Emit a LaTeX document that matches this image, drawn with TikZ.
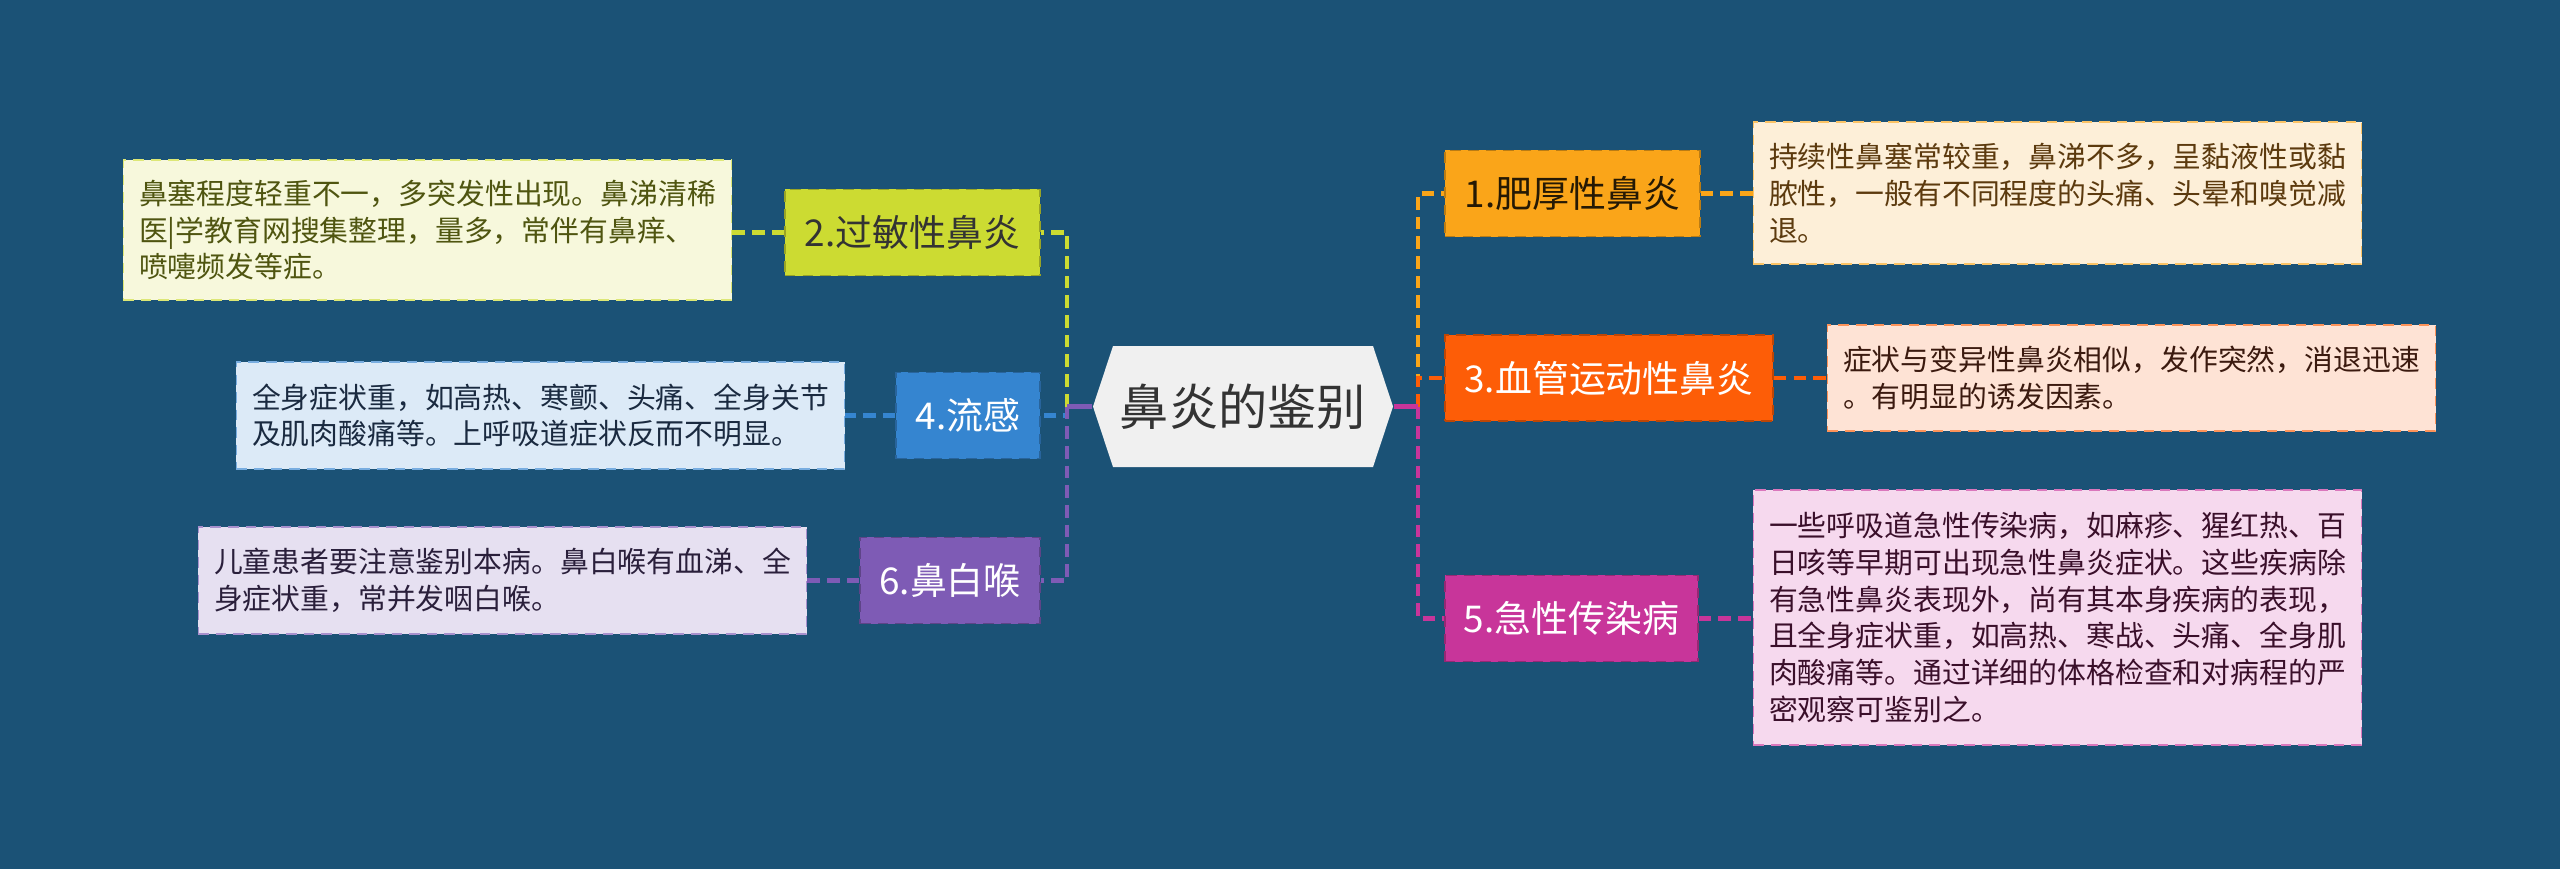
\documentclass[tikz,border=0pt]{standalone}
\usepackage{fontspec}
\newfontfamily\cjk{Noto Sans CJK SC}
\usepackage{xcolor}

\definecolor{bgblue}{HTML}{1B5276}
\definecolor{topicgray}{HTML}{F0F0F0}
\definecolor{topictext}{HTML}{333333}
% branch colours
\definecolor{oneC}{HTML}{FAA519}
\definecolor{twoC}{HTML}{CCDB32}
\definecolor{threeC}{HTML}{FD5D07}
\definecolor{fourC}{HTML}{3585D0}
\definecolor{fiveC}{HTML}{C8359A}
\definecolor{sixC}{HTML}{7E5BB5}
% note fills and texts
\definecolor{oneN}{HTML}{FDEFD8}
\definecolor{twoN}{HTML}{F7F8DC}
\definecolor{threeN}{HTML}{FEE3D5}
\definecolor{fourN}{HTML}{DCEAF7}
\definecolor{fiveN}{HTML}{F6D9EE}
\definecolor{sixN}{HTML}{E6E0F1}
\definecolor{oneT}{HTML}{5C3A0E}
\definecolor{twoT}{HTML}{4F5510}
\definecolor{threeT}{HTML}{3B1A0F}
\definecolor{fourT}{HTML}{1A2A40}
\definecolor{fiveT}{HTML}{3A0F2A}
\definecolor{sixT}{HTML}{2A1F3B}

\begin{document}
\begin{tikzpicture}[
        x=0.01cm, y=-0.01cm,
        topic/.style={rectangle, text=topictext, minimum width=3cm, minimum height=1.21cm, inner sep=0pt, font=\cjk\fontsize{14}{16}\selectfont},
        branch/.style={rectangle, densely dashed, line width=0.4pt, minimum height=0.86cm, inner sep=0pt, font=\cjk\fontsize{10.5}{12}\selectfont},
        note/.style={rectangle, densely dashed, line width=0.4pt, align=left, minimum width=6.08cm, inner sep=0pt, font=\cjk\fontsize{8.2}{10.5}\selectfont},
        link/.style={draw=#1, line width=1.15pt, dash pattern=on 3.6pt off 2pt},
        stub/.style={draw=#1, line width=1.15pt}
    ]
    \useasboundingbox (0,0) rectangle (2560,869);
    \fill[bgblue] (0,0) rectangle (2560,869);

    % hexagon behind the topic
    \fill[topicgray] (1093,406.5) -- (1113,346) -- (1373,346) -- (1393,406.5) -- (1373,467) -- (1113,467) -- cycle;
    \node [topic] (c) at (1243,406.5) {鼻炎的鉴别};

    % right side
    \node [branch, fill=oneC, draw=oneC!75!black, text=black!85!oneC, minimum width=2.55cm] (n1) at (1572.5,193.5) {1.肥厚性鼻炎};
    \node [branch, fill=threeC, draw=threeC!75!black, text=white, minimum width=3.28cm] (n3) at (1609,378) {3.血管运动性鼻炎};
    \node [branch, fill=fiveC, draw=fiveC!75!black, text=white, minimum width=2.53cm] (n5) at (1571.5,618.5) {5.急性传染病};

    \node [note, fill=oneN, draw=oneC!60!oneN, text=oneT, minimum height=1.42cm] (d1) at (2057.5,193) {持续性鼻塞常较重，鼻涕不多，呈黏液性或黏\\脓性，一般有不同程度的头痛、头晕和嗅觉减\\退。};
    \node [note, fill=threeN, draw=threeC!60!threeN, text=threeT, minimum height=1.06cm] (d3) at (2131.5,378) {症状与变异性鼻炎相似，发作突然，消退迅速\\。有明显的诱发因素。};
    \node [note, fill=fiveN, draw=fiveC!60!fiveN, text=fiveT, minimum height=2.55cm] (d5) at (2057.5,617.5) {一些呼吸道急性传染病，如麻疹、猩红热、百\\日咳等早期可出现急性鼻炎症状。这些疾病除\\有急性鼻炎表现外，尚有其本身疾病的表现，\\且全身症状重，如高热、寒战、头痛、全身肌\\肉酸痛等。通过详细的体格检查和对病程的严\\密观察可鉴别之。};

    % left side
    \node [branch, fill=twoC, draw=twoC!75!black, text=black!80, minimum width=2.55cm] (n2) at (912.5,232.5) {2.过敏性鼻炎};
    \node [branch, fill=fourC, draw=fourC!75!black, text=white, minimum width=1.44cm] (n4) at (968,415.5) {4.流感};
    \node [branch, fill=sixC, draw=sixC!75!black, text=white, minimum width=1.8cm] (n6) at (950,580.5) {6.鼻白喉};

    \node [note, fill=twoN, draw=twoC!60!twoN, text=twoT, minimum height=1.4cm] (d2) at (427.5,230) {鼻塞程度轻重不一，多突发性出现。鼻涕清稀\\医|学教育网搜集整理，量多，常伴有鼻痒、\\喷嚏频发等症。};
    \node [note, fill=fourN, draw=fourC!60!fourN, text=fourT, minimum height=1.07cm] (d4) at (540.5,415.5) {全身症状重，如高热、寒颤、头痛、全身关节\\及肌肉酸痛等。上呼吸道症状反而不明显。};
    \node [note, fill=sixN, draw=sixC!60!sixN, text=sixT, minimum height=1.07cm] (d6) at (502.5,580.5) {儿童患者要注意鉴别本病。鼻白喉有血涕、全\\身症状重，常并发咽白喉。};

    \coordinate (trunkR) at (1418,406.5);
    \coordinate (trunkL) at (1067,406.5);

    % topic to branches
    \draw [link=oneC] (trunkR) |- (n1.west);
    \draw [link=threeC] (trunkR) |- (n3.west);
    \draw [link=fiveC] (trunkR) |- (n5.west);
    \draw [stub=fiveC] (c.east) -- (trunkR);
    \draw [link=twoC] (trunkL) |- (n2.east);
    \draw [link=fourC] (trunkL) |- (n4.east);
    \draw [link=sixC] (trunkL) |- (n6.east);
    \draw [stub=sixC] (c.west) -- (trunkL);

    % branches to notes
    \draw [link=oneC] (n1.east) -- (n1.east -| d1.west);
    \draw [link=threeC] (n3.east) -- (n3.east -| d3.west);
    \draw [link=fiveC] (n5.east) -- (n5.east -| d5.west);
    \draw [link=twoC] (n2.west) -- (n2.west -| d2.east);
    \draw [link=fourC] (n4.west) -- (n4.west -| d4.east);
    \draw [link=sixC] (n6.west) -- (n6.west -| d6.east);
\end{tikzpicture}
\end{document}
